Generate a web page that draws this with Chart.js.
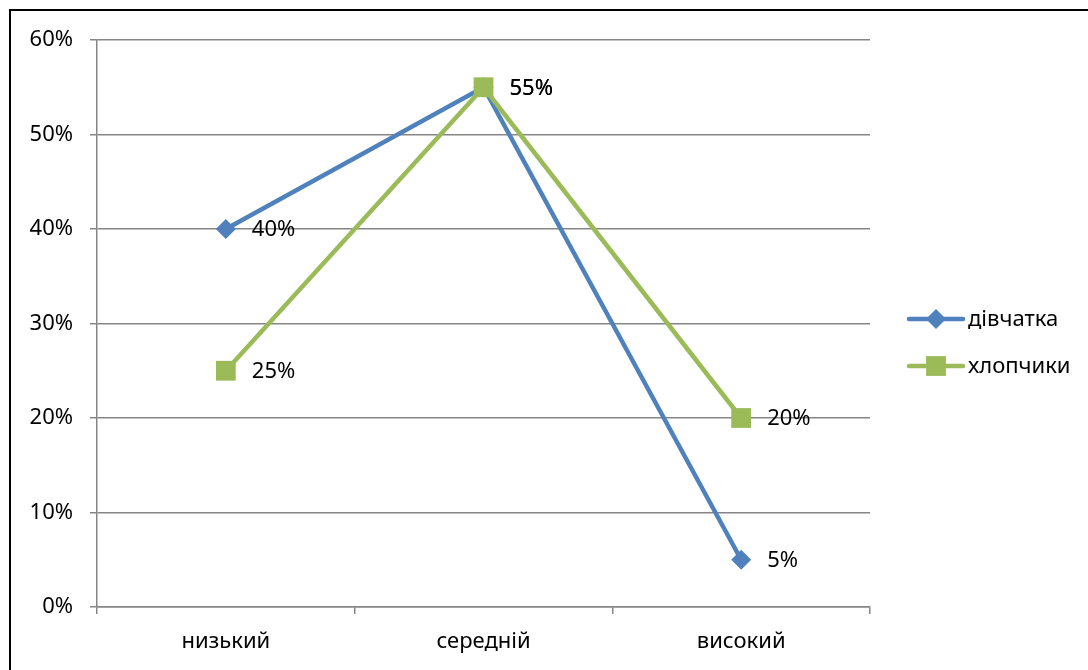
<!DOCTYPE html>
<html>
<head>
<meta charset="utf-8">
<script src="https://cdn.jsdelivr.net/npm/chart.js@4/dist/chart.umd.min.js"></script>
<style>
  html, body { margin: 0; padding: 0; background: #fff; }
  #wrap { width: 1088px; height: 670px; position: relative; }
</style>
</head>
<body>
<div id="wrap"><canvas id="lineChart"></canvas></div>
<script>
const categories = ["низький", "середній", "високий"];
const girls = [40, 55, 5];
const boys = [25, 55, 20];
const seriesNames = ["дівчатка", "хлопчики"];

const FONT = "'Noto Sans', 'Open Sans', sans-serif";
const FSIZE = 22;
const BLUE = "#4F81BD";
const GREEN = "#9BBB59";
const GRID = "#868686";

// black frame round the chart (only top/left visible in the picture)
const framePlugin = {
  id: "frame",
  beforeDraw(chart) {
    const ctx = chart.ctx;
    ctx.save();
    ctx.fillStyle = "#fff";
    ctx.fillRect(0, 0, chart.width, chart.height);
    ctx.strokeStyle = "#000";
    ctx.lineWidth = 2;
    ctx.strokeRect(10, 10, chart.width + 20, chart.height + 20);
    ctx.restore();
  },
};

// value labels to the right of each point
const valueLabels = {
  id: "valueLabels",
  afterDatasetsDraw(chart) {
    const ctx = chart.ctx;
    ctx.save();
    ctx.font = FSIZE + "px " + FONT;
    ctx.fillStyle = "#000";
    ctx.textAlign = "left";
    ctx.textBaseline = "middle";
    chart.data.datasets.forEach(function (ds, i) {
      chart.getDatasetMeta(i).data.forEach(function (pt, j) {
        ctx.fillText(ds.data[j] + "%", pt.x + 26, pt.y + 1);
      });
    });
    ctx.restore();
  },
};

function drawMarker(ctx, style, x, y, r) {
  ctx.beginPath();
  if (style === "rectRot") {
    ctx.moveTo(x, y - r);
    ctx.lineTo(x + r, y);
    ctx.lineTo(x, y + r);
    ctx.lineTo(x - r, y);
  } else {
    const h = r * Math.SQRT1_2;
    ctx.rect(x - h, y - h, 2 * h, 2 * h);
  }
  ctx.closePath();
  ctx.fill();
}

// legend on the right: line with marker, then series name
const sideLegend = {
  id: "sideLegend",
  afterDraw(chart) {
    const ctx = chart.ctx;
    const area = chart.chartArea;
    ctx.save();
    ctx.font = FSIZE + "px " + FONT;
    ctx.textAlign = "left";
    ctx.textBaseline = "middle";
    chart.data.datasets.forEach(function (ds, i) {
      const y = 319 + i * 47;
      const x0 = area.right + 39;
      ctx.strokeStyle = ds.borderColor;
      ctx.lineWidth = ds.borderWidth;
      ctx.lineCap = "round";
      ctx.beginPath();
      ctx.moveTo(x0, y);
      ctx.lineTo(x0 + 54, y);
      ctx.stroke();
      ctx.fillStyle = ds.backgroundColor;
      drawMarker(ctx, ds.pointStyle, x0 + 27, y, ds.pointRadius);
      ctx.fillStyle = "#000";
      ctx.fillText(ds.label, x0 + 59, y + 1);
    });
    ctx.restore();
  },
};

const data = {
  labels: categories,
  datasets: [
    {
      label: seriesNames[0],
      data: girls,
      borderColor: BLUE,
      backgroundColor: BLUE,
      borderWidth: 4.5,
      pointStyle: "rectRot",
      pointRadius: 10,
      pointBorderWidth: 0,
      tension: 0,
      order: 1,
    },
    {
      label: seriesNames[1],
      data: boys,
      borderColor: GREEN,
      backgroundColor: GREEN,
      borderWidth: 4.5,
      pointStyle: "rect",
      pointRadius: 14,
      pointBorderWidth: 0,
      tension: 0,
      order: 0,
    },
  ],
};

const config = {
  type: "line",
  data: data,
  options: {
    responsive: false,
    animation: false,
    events: [],
    layout: { padding: { left: 0, top: 40, right: 218, bottom: 0 } },
    plugins: {
      legend: { display: false },
      tooltip: { enabled: false },
    },
    scales: {
      x: {
        offset: true,
        grid: {
          offset: true,
          drawOnChartArea: false,
          color: GRID,
          lineWidth: 1.5,
          tickLength: 7,
        },
        border: { color: GRID, width: 1.5 },
        ticks: { color: "#000", font: { family: FONT, size: FSIZE }, padding: 15 },
        afterFit(scale) { scale.height = 63; },
      },
      y: {
        min: 0,
        max: 60,
        grid: { color: GRID, lineWidth: 1.5, tickLength: 7 },
        border: { color: GRID, width: 1.5 },
        ticks: {
          stepSize: 10,
          color: "#000",
          font: { family: FONT, size: FSIZE },
          padding: 17,
          callback: function (v) { return v + "%"; },
        },
        afterFit(scale) { scale.width = 97; },
      },
    },
  },
  plugins: [framePlugin, valueLabels, sideLegend],
};

const canvas = document.getElementById("lineChart");
canvas.width = 1088;
canvas.height = 670;
const lineChart = new Chart(canvas, config);
</script>
</body>
</html>
